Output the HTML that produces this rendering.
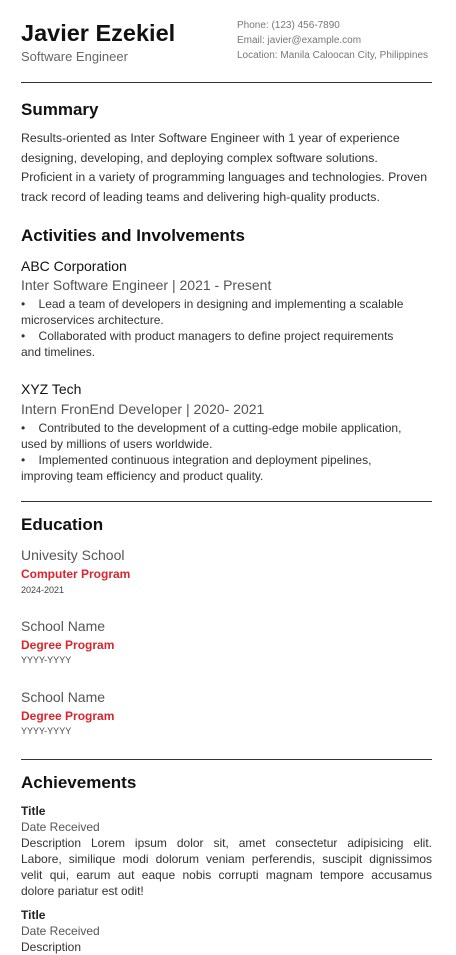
<!DOCTYPE html>
<html><head><meta charset="utf-8"><style>
html,body{margin:0;padding:0;background:#fff;width:456px;height:948px;overflow:hidden;font-family:"Liberation Sans",sans-serif;}
.a{position:absolute;white-space:nowrap;}
.h{font-weight:bold;font-size:17px;color:#111;}
.rule{position:absolute;left:21px;width:411px;height:1px;background:#333;}
.b{font-size:12px;color:#333;line-height:16px;}
.co{font-size:14px;color:#111;}
.role{font-size:14px;color:#555;}
.red{font-size:12px;color:#d9262c;font-weight:bold;}
.yr{font-size:9px;color:#444;}
.j{text-align:justify;text-align-last:justify;width:411px;}
</style></head><body>
<div class="a" style="left:21px;top:20px;font-size:23.5px;font-weight:bold;color:#111;">Javier Ezekiel</div>
<div class="a" style="left:21px;top:49px;font-size:13px;color:#666;">Software Engineer</div>
<div class="a" style="left:237px;top:20px;font-size:10px;color:#777;">Phone: (123) 456-7890</div>
<div class="a" style="left:237px;top:35px;font-size:10px;color:#777;">Email: javier@example.com</div>
<div class="a" style="left:237px;top:50px;font-size:10px;color:#777;">Location: Manila Caloocan City, Philippines</div>
<div class="rule" style="top:82px"></div>

<div class="a h" style="left:21px;top:100px;">Summary</div>
<div class="a" style="left:21px;top:129px;font-size:12.3px;line-height:19.7px;color:#333;">Results-oriented as Inter Software Engineer with 1 year of experience<br>designing, developing, and deploying complex software solutions.<br>Proficient in a variety of programming languages and technologies. Proven<br>track record of leading teams and delivering high-quality products.</div>

<div class="a h" style="left:21px;top:226px;">Activities and Involvements</div>
<div class="a co" style="left:21px;top:258px;">ABC Corporation</div>
<div class="a role" style="left:21px;top:277px;">Inter Software Engineer | 2021 - Present</div>
<div class="a b" style="left:21px;top:296px;">•&nbsp;&nbsp;&nbsp;&nbsp;Lead a team of developers in designing and implementing a scalable<br>microservices architecture.<br>•&nbsp;&nbsp;&nbsp;&nbsp;Collaborated with product managers to define project requirements<br>and timelines.</div>
<div class="a co" style="left:21px;top:381px;">XYZ Tech</div>
<div class="a role" style="left:21px;top:401px;">Intern FronEnd Developer | 2020- 2021</div>
<div class="a b" style="left:21px;top:420px;">•&nbsp;&nbsp;&nbsp;&nbsp;Contributed to the development of a cutting-edge mobile application,<br>used by millions of users worldwide.<br>•&nbsp;&nbsp;&nbsp;&nbsp;Implemented continuous integration and deployment pipelines,<br>improving team efficiency and product quality.</div>
<div class="rule" style="top:501px"></div>

<div class="a h" style="left:21px;top:515px;">Education</div>
<div class="a role" style="left:21px;top:547px;">Univesity School</div>
<div class="a red" style="left:21px;top:567px;">Computer Program</div>
<div class="a yr" style="left:21px;top:585px;">2024-2021</div>
<div class="a role" style="left:21px;top:618px;">School Name</div>
<div class="a red" style="left:21px;top:638px;">Degree Program</div>
<div class="a yr" style="left:21px;top:655px;">YYYY-YYYY</div>
<div class="a role" style="left:21px;top:689px;">School Name</div>
<div class="a red" style="left:21px;top:709px;">Degree Program</div>
<div class="a yr" style="left:21px;top:726px;">YYYY-YYYY</div>
<div class="rule" style="top:759px"></div>

<div class="a h" style="left:21px;top:773px;">Achievements</div>
<div class="a" style="left:21px;top:804px;font-size:12px;font-weight:bold;color:#222;">Title</div>
<div class="a b" style="left:21px;top:819px;color:#555;">Date Received</div>
<div class="a b" style="left:21px;top:835px;white-space:normal;">
<div class="j">Description Lorem ipsum dolor sit, amet consectetur adipisicing elit.</div>
<div class="j">Labore, similique modi dolorum veniam perferendis, suscipit dignissimos</div>
<div class="j">velit qui, earum aut eaque nobis corrupti magnam tempore accusamus</div>
<div>dolore pariatur est odit!</div></div>
<div class="a" style="left:21px;top:908px;font-size:12px;font-weight:bold;color:#222;">Title</div>
<div class="a b" style="left:21px;top:923px;color:#555;">Date Received</div>
<div class="a b" style="left:21px;top:939px;">Description</div>
</body></html>
